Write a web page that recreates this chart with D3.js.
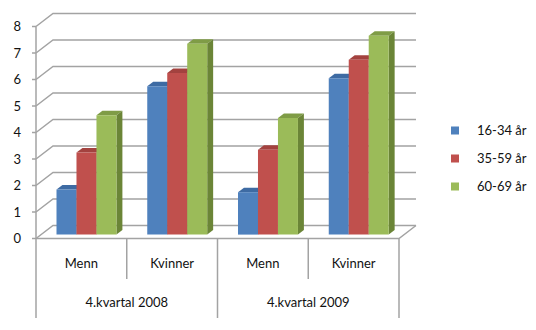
<!DOCTYPE html>
<html>
  <head>
    <meta charset="utf-8">
    <title>Alder og kjonn</title>
    <script type="text/javascript" src="https://d3js.org/d3.v7.min.js"></script>
    <style>
      body { margin: 0; background: #fff; }
      text { font-family: Lato, "Open Sans", sans-serif; font-size: 13px; fill: #111; }
    </style>
  </head>
  <body>
    <svg width="536" height="330"></svg>
    <script type="text/javascript">
      // data
      var periods = ["4.kvartal 2008", "4.kvartal 2009"];
      var genders = ["Menn", "Kvinner"];
      var series = ["16-34 år", "35-59 år", "60-69 år"];
      var menn2008 = [1.7, 3.1, 4.5];
      var kvinner2008 = [5.6, 6.1, 7.2];
      var menn2009 = [1.6, 3.2, 4.4];
      var kvinner2009 = [5.9, 6.6, 7.5];
      var yTicks = [0, 1, 2, 3, 4, 5, 6, 7, 8];

      var rows = [menn2008, kvinner2008, menn2009, kvinner2009];
      var cats = [];
      periods.forEach(function (p, pi) {
        genders.forEach(function (g, gi) {
          cats.push({ key: p + "|" + g, period: p, gender: g, values: rows[pi * 2 + gi] });
        });
      });

      var front = { left: 36, right: 399, floor: 238.5, top: 26.5 };
      var DX = 17, DY = 13;   // depth offset of the back wall
      var Z0 = 0.3, Z1 = 0.65; // bar depth

      var colors = {
        front: ["#4f81bd", "#c0504d", "#9bbb59"],
        side:  ["#385d8a", "#8e3b39", "#6b8537"],
        top:   ["#3e6ba3", "#a3423f", "#7f9c46"]
      };

      var svg = d3.select("svg");

      var x = d3.scaleBand().domain(cats.map(function (d) { return d.key; }))
        .range([front.left, front.right]);
      var xs = d3.scaleBand().domain(series)
        .range([15.4, x.bandwidth() - 15.4]);
      var y = d3.scaleLinear().domain([0, 8]).range([front.floor, front.top]);

      function px(xv, z) { return xv + z * DX; }
      function py(yv, z) { return yv - z * DY; }
      function pt(xv, yv, z) { return [px(xv, z), py(yv, z)]; }
      var line = d3.line();

      // back wall gridlines + left wall diagonals
      var grid = svg.append("g").attr("stroke", "#a3a3a3").attr("stroke-width", 1.5).attr("fill", "none");
      yTicks.forEach(function (t) {
        grid.append("path").attr("d", line([pt(front.left, y(t), 0), pt(front.left, y(t), 1), pt(front.right, y(t), 1)]));
      });
      // floor front and right edge
      grid.append("path").attr("d", line([pt(front.left, y(0), 0), pt(front.right, y(0), 0), pt(front.right, y(0), 1)]));
      // value axis line
      grid.append("path").attr("d", line([pt(front.left, y(0), 0), pt(front.left, y(8), 0)]));
      // ticks
      yTicks.forEach(function (t) {
        grid.append("path").attr("d", line([[front.left - 4, y(t)], [front.left, y(t)]]));
      });

      svg.append("g").selectAll("text").data(yTicks).enter().append("text")
        .attr("x", 21).attr("y", function (d) { return y(d) + 4.5; })
        .attr("text-anchor", "end")
        .text(function (d) { return d; });

      // bars
      var bars = svg.append("g");
      cats.forEach(function (c) {
        c.values.forEach(function (v, i) {
          var x0 = x(c.key) + xs(series[i]);
          var x1 = x0 + xs.bandwidth();
          var yb = y(0), yt = y(v);
          bars.append("path").attr("fill", colors.top[i])
            .attr("d", line([pt(x0, yt, Z0), pt(x1, yt, Z0), pt(x1, yt, Z1), pt(x0, yt, Z1)]) + "Z");
          bars.append("path").attr("fill", colors.side[i])
            .attr("d", line([pt(x1, yt, Z0), pt(x1, yt, Z1), pt(x1, yb, Z1), pt(x1, yb, Z0)]) + "Z");
          bars.append("path").attr("fill", colors.front[i])
            .attr("d", line([pt(x0, yt, Z0), pt(x1, yt, Z0), pt(x1, yb, Z0), pt(x0, yb, Z0)]) + "Z");
        });
      });

      // category axis (two levels)
      var axis = svg.append("g").attr("stroke", "#a3a3a3").attr("stroke-width", 1.5);
      cats.forEach(function (c, i) {
        var outer = i % 2 === 0;
        axis.append("line")
          .attr("x1", x(c.key)).attr("x2", x(c.key))
          .attr("y1", front.floor).attr("y2", outer ? 318 : 279);
      });
      axis.append("line").attr("x1", front.right).attr("x2", front.right)
        .attr("y1", front.floor).attr("y2", 318);

      svg.append("g").selectAll("text").data(cats).enter().append("text")
        .attr("x", function (d) { return x(d.key) + x.bandwidth() / 2; })
        .attr("y", 268)
        .attr("text-anchor", "middle")
        .text(function (d) { return d.gender; });

      svg.append("g").selectAll("text").data(periods).enter().append("text")
        .attr("x", function (d, i) { return x(cats[i * 2].key) + x.bandwidth(); })
        .attr("y", 307)
        .attr("text-anchor", "middle")
        .text(function (d) { return d; });

      // legend
      var legend = svg.append("g").selectAll("g").data(series).enter().append("g")
        .attr("transform", function (d, i) { return "translate(451," + (126.5 + i * 28) + ")"; });
      legend.append("rect").attr("width", 8).attr("height", 8)
        .attr("fill", function (d, i) { return colors.front[i]; });
      legend.append("text").attr("x", 26).attr("y", 8.5).text(function (d) { return d; });
    </script>
  </body>
</html>
